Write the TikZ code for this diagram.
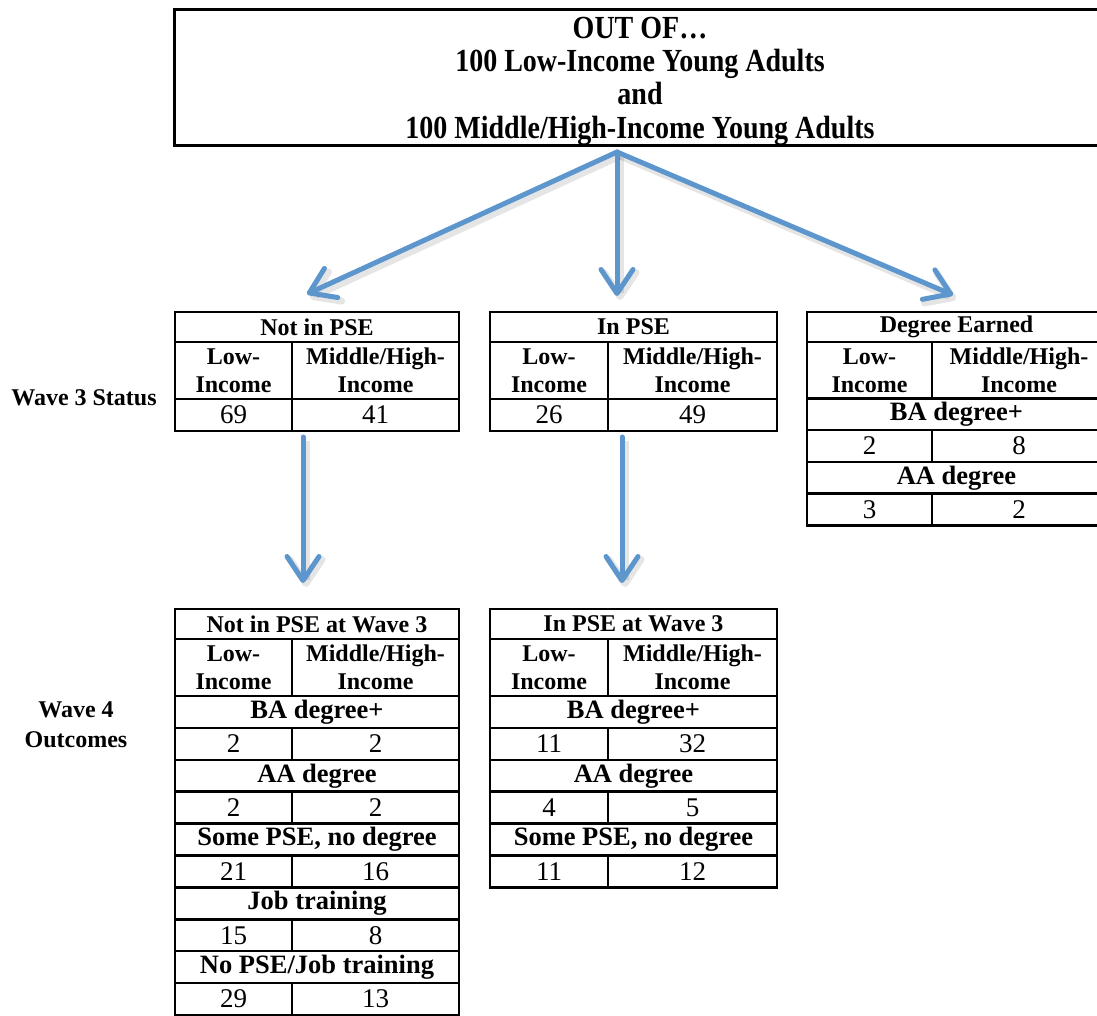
\documentclass[tikz,border=0pt]{standalone}
\usepackage{fontspec}
\setmainfont{Liberation Serif}
\usetikzlibrary{arrows.meta}
\definecolor{arrowblue}{RGB}{92,150,205}
\tikzset{cell/.style={draw, line width=2.5pt, inner sep=0pt, outer sep=0pt, anchor=north west, align=center}}
\tikzset{hd/.style={cell, minimum height=30pt, font=\fontsize{24}{28}\selectfont\bfseries}}
\tikzset{inc/.style={cell, minimum height=57pt, font=\fontsize{24}{28}\selectfont\bfseries}}
\tikzset{lab/.style={cell, minimum height=31.9pt, font=\fontsize{26.5}{30}\selectfont\bfseries}}
\tikzset{num/.style={cell, minimum height=31.9pt, font=\fontsize{27}{28}\selectfont}}
\tikzset{side/.style={align=center, font=\fontsize{24}{30}\selectfont\bfseries}}
\tikzset{flow/.style={draw=arrowblue, line width=5pt, line cap=round,
  -{Straight Barb[length=24pt,width=32pt,round]},
  preaction={draw=black, opacity=0.1, line width=7pt, transform canvas={xshift=3pt,yshift=-4pt}}}}

\begin{document}
\begin{tikzpicture}[x=1pt,y=-1pt]
\useasboundingbox (0,0) rectangle (1097,1015);
\clip (0,0) rectangle (1097,1015);

% top box
\node (top) [draw, line width=3pt, minimum width=932pt, minimum height=136pt] at (640,77) {};
\node (top-txt) [yscale=1.15, align=center, font=\fontsize{28}{29}\selectfont\bfseries]
  at ([yshift=-4pt]top.center)
  {OUT OF…\\100 Low-Income Young Adults\\and\\100 Middle/High-Income Young Adults};

% wave 3
\node (w3) [side] at (84,398) {Wave 3 Status};

\node (np-hd) [hd, minimum width=284pt] at (175,312) {Not in PSE};
\node (np-lo) [inc, minimum width=117pt] at (np-hd.south west) {Low-\\Income};
\node (np-hi) [inc, minimum width=167pt] at (np-lo.north east) {Middle/High-\\Income};
\node (np-n1) [num, minimum width=117pt] at (np-lo.south west) {69};
\node (np-n2) [num, minimum width=167pt] at (np-n1.north east) {41};

\node (ip-hd) [hd, minimum width=287pt] at (490,312) {In PSE};
\node (ip-lo) [inc, minimum width=118pt] at (ip-hd.south west) {Low-\\Income};
\node (ip-hi) [inc, minimum width=169pt] at (ip-lo.north east) {Middle/High-\\Income};
\node (ip-n1) [num, minimum width=118pt] at (ip-lo.south west) {26};
\node (ip-n2) [num, minimum width=169pt] at (ip-n1.north east) {49};

\node (de-hd) [hd, minimum width=299pt] at (807,312) {Degree Earned};
\node (de-lo) [inc, minimum width=125pt] at (de-hd.south west) {Low-\\Income};
\node (de-hi) [inc, minimum width=174pt] at (de-lo.north east) {Middle/High-\\Income};
\foreach \lab/\lo/\hi [count=\i] in {BA degree+/2/8, AA degree/3/2} {
  \node (de-lab\i) [lab, minimum width=299pt] at (807,{398+(\i-1)*63.8}) {\lab};
  \node (de-lo\i) [num, minimum width=125pt] at (de-lab\i.south west) {\lo};
  \node (de-hi\i) [num, minimum width=174pt] at (de-lo\i.north east) {\hi};
}

% wave 4
\node (w4) [side] at (76,725) {Wave 4\\Outcomes};

\node (nw-hd) [hd, minimum width=284pt] at (175,609) {Not in PSE at Wave 3};
\node (nw-lo) [inc, minimum width=117pt] at (nw-hd.south west) {Low-\\Income};
\node (nw-hi) [inc, minimum width=167pt] at (nw-lo.north east) {Middle/High-\\Income};
\foreach \lab/\lo/\hi [count=\i] in {BA degree+/2/2, AA degree/2/2, {Some PSE, no degree}/21/16,
    Job training/15/8, {No PSE/Job training}/29/13} {
  \node (nw-lab\i) [lab, minimum width=284pt] at (175,{696+(\i-1)*63.8}) {\lab};
  \node (nw-lo\i) [num, minimum width=117pt] at (nw-lab\i.south west) {\lo};
  \node (nw-hi\i) [num, minimum width=167pt] at (nw-lo\i.north east) {\hi};
}

\node (iw-hd) [hd, minimum width=287pt] at (490,609) {In PSE at Wave 3};
\node (iw-lo) [inc, minimum width=118pt] at (iw-hd.south west) {Low-\\Income};
\node (iw-hi) [inc, minimum width=169pt] at (iw-lo.north east) {Middle/High-\\Income};
\foreach \lab/\lo/\hi [count=\i] in {BA degree+/11/32, AA degree/4/5, {Some PSE, no degree}/11/12} {
  \node (iw-lab\i) [lab, minimum width=287pt] at (490,{696+(\i-1)*63.8}) {\lab};
  \node (iw-lo\i) [num, minimum width=118pt] at (iw-lab\i.south west) {\lo};
  \node (iw-hi\i) [num, minimum width=169pt] at (iw-lo\i.north east) {\hi};
}

% arrows
\coordinate (src) at (617,152);
\coordinate (to-np) at (307,294);
\coordinate (to-ip) at (617,296);
\coordinate (to-de) at (953,295);
\coordinate (from-np) at (303,437);
\coordinate (to-nw) at (303,583);
\coordinate (from-ip) at (622,437);
\coordinate (to-iw) at (622,583);

\draw[flow] (src) -- (to-np);
\draw[flow] (src) -- (to-ip);
\draw[flow] (src) -- (to-de);
\draw[flow] (from-np) -- (to-nw);
\draw[flow] (from-ip) -- (to-iw);
\end{tikzpicture}
\end{document}
